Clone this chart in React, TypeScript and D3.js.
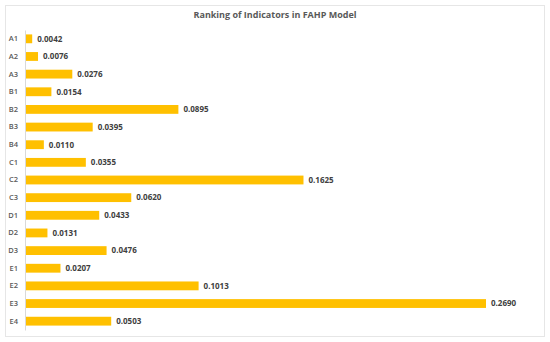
import React, { useEffect, useRef } from 'react';
import * as d3 from 'd3';

const categories = ['A1', 'A2', 'A3', 'B1', 'B2', 'B3', 'B4', 'C1', 'C2', 'C3', 'D1', 'D2', 'D3', 'E1', 'E2', 'E3', 'E4'];
const weights = [0.0042, 0.0076, 0.0276, 0.0154, 0.0895, 0.0395, 0.0110, 0.0355, 0.1625, 0.0620, 0.0433, 0.0131, 0.0476, 0.0207, 0.1013, 0.2690, 0.0503];

export default function App() {
  const ref = useRef<SVGSVGElement>(null);

  useEffect(() => {
    if (!ref.current) return;
    const svg = d3.select(ref.current);
    svg.selectAll('*').remove();

    const width = 550;
    const font = '"Open Sans", "Liberation Sans", sans-serif';

    // chart frame
    svg.append('rect')
      .attr('x', 5.5)
      .attr('y', 5.5)
      .attr('width', 539)
      .attr('height', 331)
      .attr('fill', '#fff')
      .attr('stroke', '#e6e6e6');

    svg.append('text')
      .attr('x', width / 2)
      .attr('y', 18)
      .attr('text-anchor', 'middle')
      .attr('font-family', font)
      .attr('font-size', 9)
      .attr('font-weight', 700)
      .attr('fill', '#595959')
      .text('Ranking of Indicators in FAHP Model');

    const x = d3.scaleLinear().domain([0, 0.269]).range([25, 486]);
    const y = d3.scaleBand().domain(categories).range([30, 330]).paddingInner(0.5).paddingOuter(0.25);

    const data = categories.map((c, i) => ({ c, v: weights[i] }));

    svg.selectAll('.bar')
      .data(data)
      .enter()
      .append('rect')
      .attr('class', 'bar')
      .attr('x', x(0))
      .attr('y', d => y(d.c)!)
      .attr('width', d => x(d.v) - x(0))
      .attr('height', y.bandwidth())
      .attr('fill', '#FFC000');

    svg.selectAll('.val')
      .data(data)
      .enter()
      .append('text')
      .attr('class', 'val')
      .attr('x', d => x(d.v) + 5)
      .attr('y', d => y(d.c)! + y.bandwidth() / 2)
      .attr('dy', '0.35em')
      .attr('font-family', font)
      .attr('font-size', 8)
      .attr('font-weight', 700)
      .attr('fill', '#404040')
      .text(d => d.v.toFixed(4));

    // category axis
    const axis = svg.append('g')
      .attr('transform', `translate(${x(0)},0)`)
      .call(d3.axisLeft(y).tickSize(0).tickPadding(7));
    axis.select('.domain').attr('stroke', '#d9d9d9');
    axis.selectAll('text')
      .attr('font-family', font)
      .attr('font-size', 7.5)
      .attr('font-weight', 600)
      .attr('fill', '#595959');
  }, []);

  return (
    <svg ref={ref} width={550} height={342} style={{ position: 'absolute', left: 0, top: 0 }} />
  );
}
